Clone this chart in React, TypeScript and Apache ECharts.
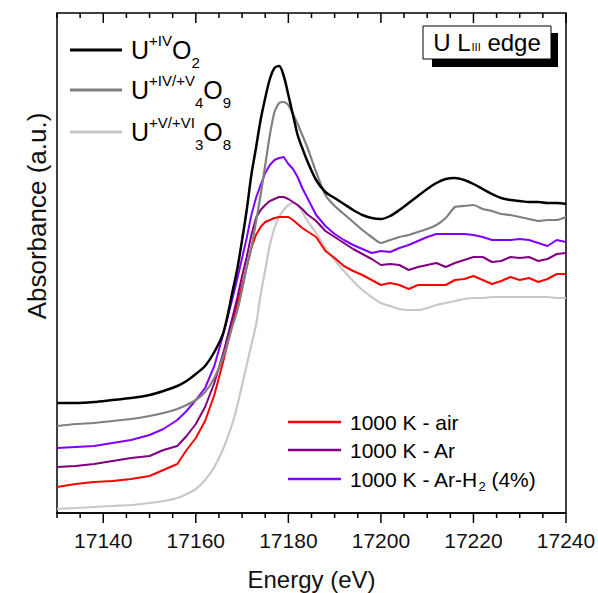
import React, { useEffect, useRef } from "react";
import * as echarts from "echarts";

// Energy grid (eV)
const energies = [
  17130, 17134, 17138, 17142, 17146, 17150, 17153, 17156, 17158, 17160, 17162, 17164, 17166, 17168,
  17169, 17170, 17171, 17172, 17173, 17174, 17175, 17176, 17177, 17178, 17179, 17180, 17181, 17182, 17183, 17184,
  17186, 17188, 17190, 17192, 17194, 17196, 17198, 17200, 17202, 17204, 17206, 17208, 17210, 17212, 17214, 17216,
  17218, 17220, 17222, 17224, 17226, 17228, 17230, 17232, 17234, 17236, 17238, 17240,
];

// Absorbance (a.u., offset spectra)
const uo2 = [
  1.13, 1.13, 1.14, 1.16, 1.18, 1.21, 1.25, 1.30, 1.35, 1.42, 1.50, 1.64, 1.84, 2.26,
  2.48, 2.76, 3.06, 3.41, 3.68, 3.96, 4.18, 4.37, 4.48, 4.50, 4.40, 4.21, 4.01, 3.81, 3.68, 3.56,
  3.36, 3.24, 3.18, 3.12, 3.06, 3.01, 2.98, 2.97, 3.00, 3.06, 3.13, 3.20, 3.27, 3.33, 3.37, 3.38,
  3.36, 3.32, 3.27, 3.22, 3.18, 3.16, 3.15, 3.14, 3.14, 3.13, 3.13, 3.12,
];
const u4o9 = [
  0.90, 0.92, 0.93, 0.95, 0.97, 1.00, 1.03, 1.07, 1.11, 1.16, 1.24, 1.38, 1.60, 1.91,
  2.06, 2.26, 2.49, 2.68, 2.94, 3.21, 3.51, 3.81, 4.04, 4.13, 4.14, 4.11, 4.02, 3.92, 3.81, 3.70,
  3.44, 3.21, 3.10, 3.02, 2.94, 2.86, 2.79, 2.73, 2.76, 2.79, 2.81, 2.84, 2.87, 2.91, 2.98, 3.09,
  3.10, 3.11, 3.07, 3.05, 3.02, 3.01, 2.99, 2.97, 2.95, 2.96, 2.96, 2.99,
];
const u3o8 = [
  0.07, 0.08, 0.09, 0.10, 0.11, 0.13, 0.15, 0.18, 0.22, 0.27, 0.36, 0.49, 0.68, 0.94,
  1.11, 1.31, 1.51, 1.71, 1.91, 2.21, 2.46, 2.71, 2.88, 2.99, 3.06, 3.11, 3.13, 3.11, 3.04, 2.96,
  2.83, 2.68, 2.56, 2.45, 2.35, 2.26, 2.19, 2.13, 2.10, 2.07, 2.06, 2.06, 2.08, 2.11, 2.13, 2.15,
  2.17, 2.18, 2.18, 2.19, 2.19, 2.19, 2.19, 2.19, 2.19, 2.19, 2.18, 2.18,
];
const airK1000 = [
  0.29, 0.32, 0.34, 0.35, 0.37, 0.40, 0.46, 0.52, 0.66, 0.78, 0.95, 1.21, 1.56, 1.94,
  2.13, 2.30, 2.49, 2.68, 2.81, 2.89, 2.94, 2.96, 2.98, 2.99, 2.99, 2.99, 2.96, 2.92, 2.88, 2.85,
  2.79, 2.65, 2.58, 2.50, 2.45, 2.41, 2.36, 2.31, 2.33, 2.31, 2.27, 2.31, 2.31, 2.31, 2.31, 2.36,
  2.37, 2.40, 2.36, 2.32, 2.35, 2.39, 2.36, 2.38, 2.34, 2.37, 2.42, 2.42,
];
const arK1000 = [
  0.49, 0.50, 0.52, 0.55, 0.58, 0.60, 0.66, 0.70, 0.80, 0.92, 1.09, 1.33, 1.64, 2.00,
  2.19, 2.40, 2.59, 2.81, 2.98, 3.06, 3.11, 3.15, 3.17, 3.19, 3.19, 3.17, 3.14, 3.11, 3.07, 3.02,
  2.95, 2.85, 2.79, 2.73, 2.67, 2.62, 2.57, 2.51, 2.52, 2.51, 2.46, 2.49, 2.51, 2.53, 2.49, 2.53,
  2.56, 2.59, 2.59, 2.54, 2.55, 2.59, 2.58, 2.59, 2.55, 2.57, 2.62, 2.63,
];
const arH2K1000 = [
  0.68, 0.69, 0.70, 0.73, 0.76, 0.81, 0.87, 0.96, 1.05, 1.16, 1.28, 1.50, 1.83, 2.19,
  2.38, 2.58, 2.78, 3.01, 3.18, 3.31, 3.43, 3.51, 3.56, 3.58, 3.59, 3.52, 3.47, 3.39, 3.28, 3.19,
  3.01, 2.90, 2.82, 2.76, 2.71, 2.67, 2.63, 2.65, 2.64, 2.68, 2.71, 2.75, 2.79, 2.82, 2.82, 2.82,
  2.82, 2.81, 2.79, 2.76, 2.76, 2.76, 2.77, 2.76, 2.73, 2.70, 2.76, 2.74,
];

const majorTicks = [17140, 17160, 17180, 17200, 17220, 17240];
const minorTicks = [
  17130, 17135, 17145, 17150, 17155, 17165, 17170, 17175, 17185, 17190, 17195,
  17205, 17210, 17215, 17225, 17230, 17235,
];

// Legend texts (rich-text markup) and colours
const refLegendTexts = [
  "{b|U}{sup|+IV}{b|O}{sub|2}",
  "{b|U}{sup|+IV/+V}{sub|4}{b|O}{sub|9}",
  "{b|U}{sup|+V/+VI}{sub|3}{b|O}{sub|8}",
];
const refLegendColors = ["#000000", "#808080", "#c8c8c8"];
const smpLegendTexts = ["{t|1000 K - air}", "{t|1000 K - Ar}", "{t|1000 K - Ar-H}{sub|2}{t| (4%)}"];
const smpLegendColors = ["#ff0000", "#800080", "#8000ff"];

const FONT = "'Liberation Sans', Arial, sans-serif";
const X_MIN = 17130;
const X_MAX = 17240;
const Y_MIN = 0.03;
const Y_MAX = 5.03;

const pair = (ys: number[]) => energies.map((e, i) => [e, ys[i]]);

export default function App() {
  const ref = useRef<HTMLDivElement>(null);
  useEffect(() => {
    if (!ref.current) return;
    const chart = echarts.init(ref.current, null, { renderer: "svg" });
    const refRich = {
      b: { fontSize: 25, fontFamily: FONT, fill: "#000", lineHeight: 40, verticalAlign: "middle" },
      sup: { fontSize: 15, fontFamily: FONT, fill: "#000", lineHeight: 15, verticalAlign: "top", padding: [3, 0, 0, 0] },
      sub: { fontSize: 15, fontFamily: FONT, fill: "#000", lineHeight: 15, verticalAlign: "bottom" },
    };
    const smpRich = {
      t: { fontSize: 21, fontFamily: FONT, fill: "#000", lineHeight: 28, verticalAlign: "middle" },
      sub: { fontSize: 13, fontFamily: FONT, fill: "#000", lineHeight: 13, verticalAlign: "bottom" },
    };
    const refRows = [50, 90, 132];
    const smpRows = [422, 450, 479];
    const baseGraphics: any[] = [
      {
        type: "text",
        x: 37,
        y: 216,
        rotation: Math.PI / 2,
        style: {
          text: "Absorbance (a.u.)",
          fontSize: 26,
          fontFamily: FONT,
          fill: "#111",
          align: "center",
          verticalAlign: "middle",
        },
      },
    ];
    refRows.forEach((y, i) => {
      baseGraphics.push({
        type: "line",
        shape: { x1: 70, y1: y, x2: 122, y2: y },
        style: { stroke: refLegendColors[i], lineWidth: 3 },
      });
      baseGraphics.push({
        type: "text",
        x: 131,
        y,
        style: { text: refLegendTexts[i], rich: refRich, align: "left", verticalAlign: "middle" },
      });
    });
    smpRows.forEach((y, i) => {
      baseGraphics.push({
        type: "line",
        shape: { x1: 288, y1: y, x2: 341, y2: y },
        style: { stroke: smpLegendColors[i], lineWidth: 2.5 },
      });
      baseGraphics.push({
        type: "text",
        x: 350,
        y,
        style: { text: smpLegendTexts[i], rich: smpRich, align: "left", verticalAlign: "middle" },
      });
    });
    baseGraphics.push(
      { type: "rect", shape: { x: 432, y: 33, width: 126, height: 34 }, style: { fill: "#000" } },
      { type: "rect", shape: { x: 423, y: 26, width: 128, height: 33 }, style: { fill: "#fff", stroke: "#000", lineWidth: 1 } },
      {
        type: "text",
        x: 487,
        y: 42.5,
        style: {
          text: "{a|U L}{s|III}{a| edge}",
          align: "center",
          verticalAlign: "middle",
          rich: {
            a: { fontSize: 24, fontFamily: FONT, fill: "#000", lineHeight: 24, verticalAlign: "middle" },
            s: { fontSize: 11, fontFamily: FONT, fill: "#000", lineHeight: 11, verticalAlign: "middle", padding: [9, 0, 0, 1] },
          },
        },
      }
    );
    const mk = (name: string, data: number[], color: string, width: number, smooth: number | boolean) => ({
      name,
      type: "line" as const,
      xAxisIndex: 0,
      yAxisIndex: 0,
      data: pair(data),
      showSymbol: false,
      symbol: "none",
      smooth,
      lineStyle: { color, width },
      itemStyle: { color },
    });
    chart.setOption({
      animation: false,
      backgroundColor: "#fff",
      grid: {
        left: 57,
        right: 32,
        top: 13,
        bottom: 80,
        show: true,
        borderColor: "#000",
        borderWidth: 1.5,
        outerBoundsMode: "none",
      },
      xAxis: {
        type: "value",
        min: X_MIN,
        max: X_MAX,
        position: "bottom",
        axisLine: { show: true, onZero: false, lineStyle: { color: "#000", width: 1.5 } },
        splitLine: { show: false },
        axisTick: { show: false },
        name: "Energy (eV)",
        nameLocation: "middle",
        nameGap: 54,
        nameTextStyle: { fontSize: 24, fontFamily: FONT, color: "#111" },
        axisLabel: {
          show: true,
          customValues: majorTicks,
          margin: 17,
          fontSize: 21,
          fontFamily: FONT,
          color: "#111",
          formatter: (v: number) => String(v),
        },
      },
      yAxis: {
        type: "value",
        min: Y_MIN,
        max: Y_MAX,
        axisLine: { show: false },
        axisTick: { show: false },
        axisLabel: { show: false },
        splitLine: { show: false },
      },
      graphic: baseGraphics,
      series: [
        mk("U3O8", u3o8, "#c8c8c8", 2.2, 0.3),
        mk("air", airK1000, "#ff0000", 2, false),
        mk("Ar", arK1000, "#800080", 2, false),
        mk("ArH2", arH2K1000, "#8000ff", 2, false),
        mk("U4O9", u4o9, "#808080", 2.2, 0.2),
        mk("UO2", uo2, "#000000", 2.5, 0.3),
      ],
    });

    // Tick marks placed through the axis scale (convertToPixel on the grid)
    const toPx = (x: number, y: number): number[] | null => {
      let p: any = chart.convertToPixel({ gridIndex: 0 }, [x, y]);
      if (!Array.isArray(p) || !isFinite(p[0]) || !isFinite(p[1])) {
        p = chart.convertToPixel({ seriesIndex: 0 }, [x, y]);
      }
      return Array.isArray(p) && isFinite(p[0]) && isFinite(p[1]) ? p : null;
    };
    const tickGraphics: any[] = [];
    const addTicks = (vals: number[], len: number) => {
      vals.forEach((v) => {
        const b = toPx(v, Y_MIN);
        const t = toPx(v, Y_MAX);
        if (!b || !t) return;
        tickGraphics.push({
          type: "rect",
          z: 100,
          shape: { x: b[0] - 0.75, y: b[1], width: 1.5, height: len },
          style: { fill: "#000" },
        });
        tickGraphics.push({
          type: "rect",
          z: 100,
          shape: { x: t[0] - 0.75, y: t[1], width: 1.5, height: len },
          style: { fill: "#000" },
        });
      });
    };
    addTicks(majorTicks, 10);
    addTicks(minorTicks, 5);
    chart.setOption({ graphic: [...baseGraphics, ...tickGraphics] });

    return () => chart.dispose();
  }, []);
  return (
    <div
      ref={ref}
      style={{ position: "fixed", left: 0, top: 0, width: 598, height: 593, background: "#fff" }}
    />
  );
}
